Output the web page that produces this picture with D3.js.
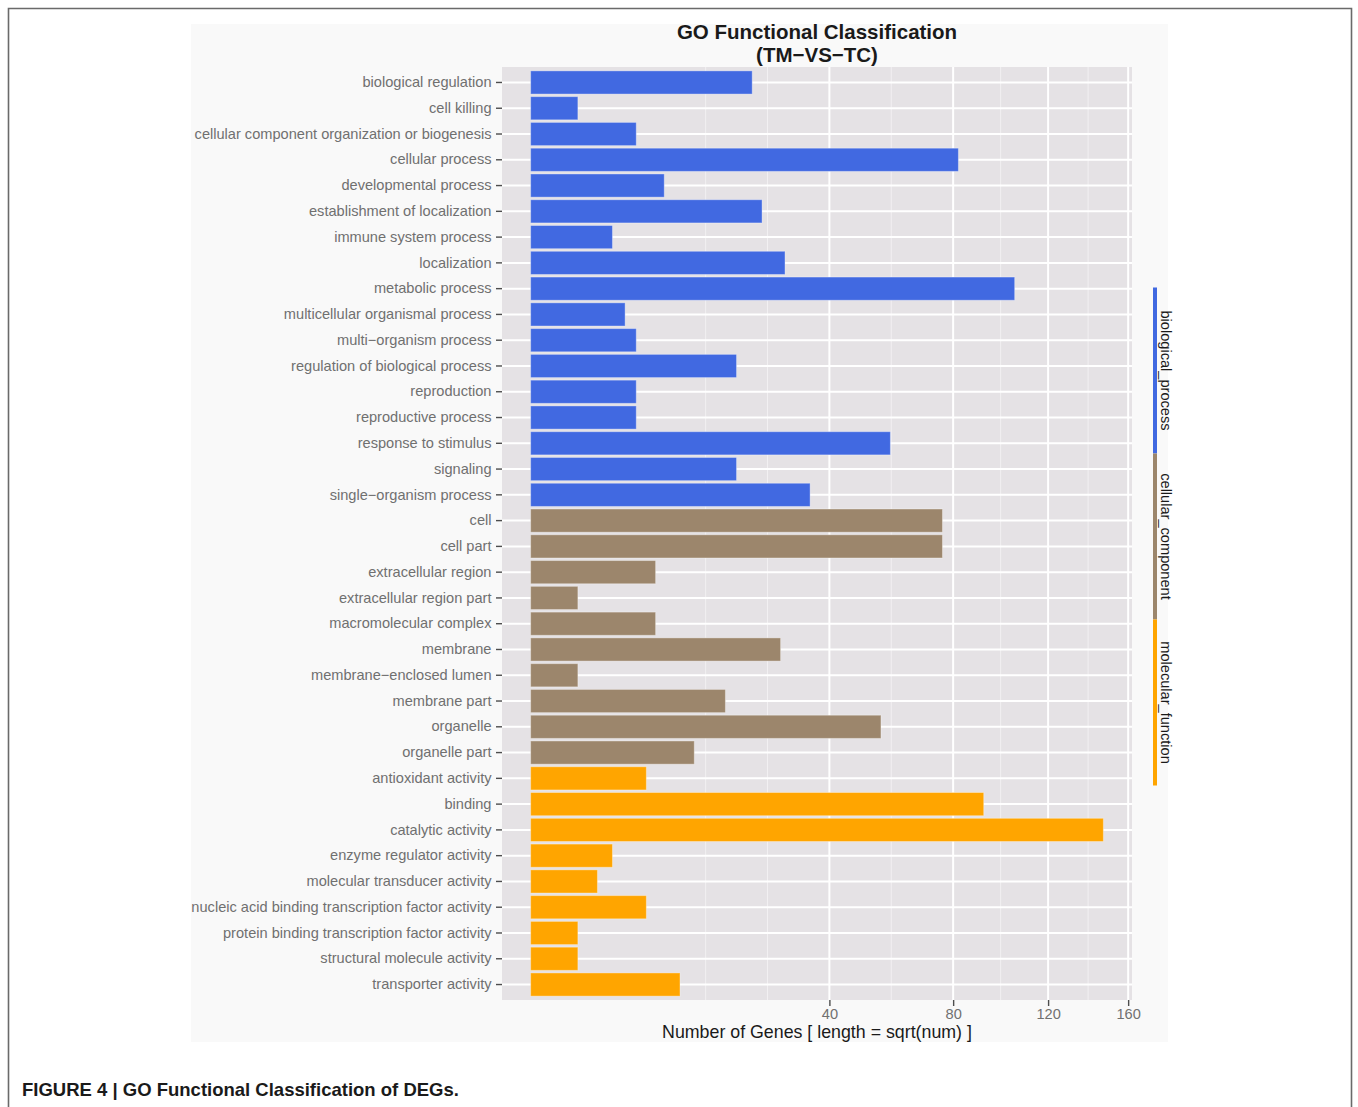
<!DOCTYPE html>
<html>
<head>
<meta charset="utf-8">
<script src="https://cdn.jsdelivr.net/npm/d3@7"></script>
<style>
  html, body { margin: 0; padding: 0; background: #ffffff; }
  svg { display: block; font-family: "Liberation Sans", Arial, Helvetica, sans-serif; }
</style>
</head>
<body>
<svg id="chart" width="1358" height="1107"></svg>
<script>
// ---------- data ----------
const categories = [
  "biological regulation", "cell killing", "cellular component organization or biogenesis",
  "cellular process", "developmental process", "establishment of localization",
  "immune system process", "localization", "metabolic process",
  "multicellular organismal process", "multi\u2212organism process", "regulation of biological process",
  "reproduction", "reproductive process", "response to stimulus", "signaling",
  "single\u2212organism process",
  "cell", "cell part", "extracellular region", "extracellular region part",
  "macromolecular complex", "membrane", "membrane\u2212enclosed lumen", "membrane part",
  "organelle", "organelle part",
  "antioxidant activity", "binding", "catalytic activity", "enzyme regulator activity",
  "molecular transducer activity", "nucleic acid binding transcription factor activity",
  "protein binding transcription factor activity", "structural molecule activity",
  "transporter activity"
];
const geneCounts = [
  22, 1, 5, 82, 8, 24, 3, 29, 105, 4, 5, 19, 5, 5, 58, 19, 35,
  76, 76, 7, 1, 7, 28, 1, 17, 55, 12,
  6, 92, 147, 3, 2, 6, 1, 1, 10
];
const groups = [
  "biological_process","biological_process","biological_process","biological_process",
  "biological_process","biological_process","biological_process","biological_process",
  "biological_process","biological_process","biological_process","biological_process",
  "biological_process","biological_process","biological_process","biological_process",
  "biological_process",
  "cellular_component","cellular_component","cellular_component","cellular_component",
  "cellular_component","cellular_component","cellular_component","cellular_component",
  "cellular_component","cellular_component",
  "molecular_function","molecular_function","molecular_function","molecular_function",
  "molecular_function","molecular_function","molecular_function","molecular_function",
  "molecular_function"
];
const groupNames = ["biological_process", "cellular_component", "molecular_function"];
const groupColors = ["#4169E1", "#9C866C", "#FFA500"];
const xTicks = [40, 80, 120, 160];
const titleLines = ["GO Functional Classification", "(TM\u2212VS\u2212TC)"];
const xTitle = "Number of Genes [ length = sqrt(num) ]";
const caption = "FIGURE 4 | GO Functional Classification of DEGs.";

// ---------- layout ----------
const svg = d3.select("#chart");
const W = 1358, H = 1107;
const plot = { left: 502, right: 1132, top: 67, bottom: 1000 };
const panel = { left: 191, top: 24, right: 1168, bottom: 1042 };

// outer frame
svg.append("path")
  .attr("d", `M8.5,${H} L8.5,8.5 L1351.5,8.5 L1351.5,${H}`)
  .attr("fill", "none").attr("stroke", "#6a6a6a").attr("stroke-width", 1.6);

// panel background
svg.append("rect")
  .attr("x", panel.left).attr("y", panel.top)
  .attr("width", panel.right - panel.left).attr("height", panel.bottom - panel.top)
  .attr("fill", "#f9f9f9");

// plot background
svg.append("rect")
  .attr("x", plot.left).attr("y", plot.top)
  .attr("width", plot.right - plot.left).attr("height", plot.bottom - plot.top)
  .attr("fill", "#e5e2e5");

// ---------- scales ----------
const sqrtMax = Math.sqrt(d3.max(geneCounts));
const expand = 0.05 * sqrtMax;
const pxPerUnit = (plot.right - plot.left) / (sqrtMax + 2 * expand);
const x0 = plot.left + expand * pxPerUnit;
const x = d3.scaleSqrt()
  .domain([0, Math.pow(sqrtMax + expand, 2)])
  .range([x0, plot.right]);

const y = d3.scaleBand()
  .domain(categories)
  .range([plot.top, plot.bottom])
  .paddingInner(0.1)
  .paddingOuter(0.15);

const color = d3.scaleOrdinal().domain(groupNames).range(groupColors);

// minor breaks (ggplot-style, in transformed space)
const tb = xTicks.map(Math.sqrt);
const bdLow = tb[1] - tb[0], bdHigh = tb[tb.length - 1] - tb[tb.length - 2];
const ext = [tb[0] - bdLow, ...tb, tb[tb.length - 1] + bdHigh];
let minorT = [];
for (let i = 0; i < ext.length - 1; i++) {
  minorT.push(ext[i], (ext[i] + ext[i + 1]) / 2);
}
minorT.push(ext[ext.length - 1]);
minorT = minorT.filter(t => t >= 0 && !tb.some(b => Math.abs(b - t) < 1e-9));
const minorVals = minorT.map(t => t * t).filter(v => x(v) > plot.left && x(v) < plot.right);

// minor vertical grid
svg.append("g").selectAll("line").data(minorVals).join("line")
  .attr("x1", d => x(d)).attr("x2", d => x(d))
  .attr("y1", plot.top).attr("y2", plot.bottom)
  .attr("stroke", "#f2f0f2").attr("stroke-width", 1);

// major vertical grid
svg.append("g").selectAll("line").data(xTicks).join("line")
  .attr("x1", d => x(d)).attr("x2", d => x(d))
  .attr("y1", plot.top).attr("y2", plot.bottom)
  .attr("stroke", "#ffffff").attr("stroke-width", 2);

// horizontal grid
svg.append("g").selectAll("line").data(categories).join("line")
  .attr("x1", plot.left).attr("x2", plot.right)
  .attr("y1", d => y(d) + y.bandwidth() / 2).attr("y2", d => y(d) + y.bandwidth() / 2)
  .attr("stroke", "#ffffff").attr("stroke-width", 2);

// bars
const rows = categories.map((c, i) => ({ cat: c, val: geneCounts[i], grp: groups[i] }));
svg.append("g").selectAll("rect").data(rows).join("rect")
  .attr("x", x(0))
  .attr("y", d => y(d.cat))
  .attr("width", d => x(d.val) - x(0))
  .attr("height", y.bandwidth())
  .attr("fill", d => color(d.grp))
  .attr("stroke", "#ffffff").attr("stroke-opacity", 0.35).attr("stroke-width", 1);

// y axis
const yAxis = svg.append("g")
  .attr("transform", `translate(${plot.left},0)`)
  .call(d3.axisLeft(y).tickSize(6).tickPadding(4.5));
yAxis.select(".domain").remove();
yAxis.selectAll(".tick line").attr("stroke", "#4d4d4d").attr("stroke-width", 1.4);
yAxis.selectAll(".tick text")
  .attr("fill", "#707070").attr("font-size", 14.6)
  .attr("font-family", "'Liberation Sans', Arial, sans-serif");

// x axis
const xAxis = svg.append("g")
  .attr("transform", `translate(0,${plot.bottom})`)
  .call(d3.axisBottom(x).tickValues(xTicks).tickSize(6).tickPadding(3));
xAxis.select(".domain").remove();
xAxis.selectAll(".tick line").attr("stroke", "#4d4d4d").attr("stroke-width", 1.4);
xAxis.selectAll(".tick text")
  .attr("fill", "#707070").attr("font-size", 14.6)
  .attr("font-family", "'Liberation Sans', Arial, sans-serif");

// x-axis title
const plotCx = (plot.left + plot.right) / 2;
svg.append("text")
  .attr("x", plotCx).attr("y", 1038)
  .attr("text-anchor", "middle")
  .attr("font-size", 17.8).attr("fill", "#1a1a1a")
  .text(xTitle);

// title
svg.append("g").selectAll("text").data(titleLines).join("text")
  .attr("x", plotCx)
  .attr("y", (d, i) => 39 + i * 23)
  .attr("text-anchor", "middle")
  .attr("font-size", 20.5).attr("font-weight", "bold").attr("fill", "#1a1a1a")
  .text(d => d);

// legend (vertical colored segments with rotated labels)
const segLen = 166;
const legendTop = (plot.top + plot.bottom) / 2 - segLen * groupNames.length / 2 + 3;
const lg = svg.append("g");
groupNames.forEach((g, i) => {
  const y1 = legendTop + i * segLen;
  lg.append("rect")
    .attr("x", 1153).attr("y", y1).attr("width", 4).attr("height", segLen)
    .attr("fill", color(g));
  lg.append("text")
    .attr("transform", `translate(1161,${y1 + segLen / 2}) rotate(90)`)
    .attr("text-anchor", "middle")
    .attr("font-size", 14.6).attr("fill", "#1a1a1a")
    .text(g);
});

// caption
svg.append("text")
  .attr("x", 22).attr("y", 1096)
  .attr("font-size", 18.5).attr("font-weight", "bold").attr("fill", "#1a1a1a")
  .text(caption);
</script>
</body>
</html>
